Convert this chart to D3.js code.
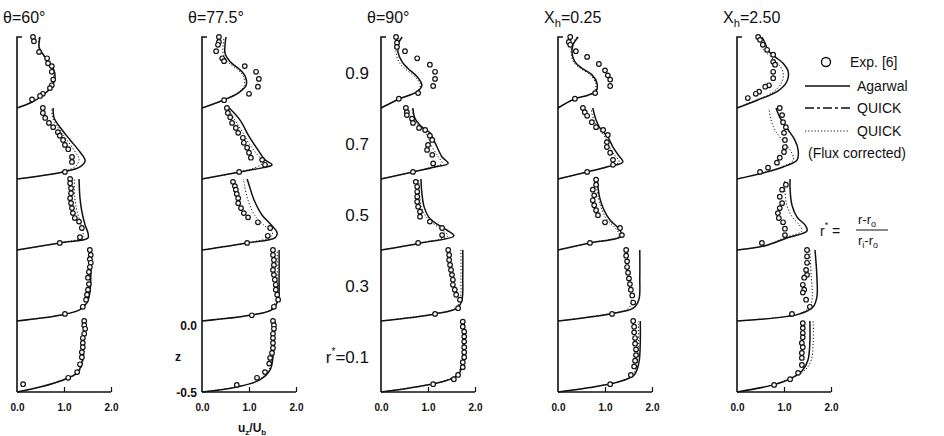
<!DOCTYPE html>
<html><head><meta charset="utf-8">
<script src="https://cdn.jsdelivr.net/npm/d3@7/dist/d3.min.js"></script>
<style>
body{margin:0;background:#fff}
text{font-family:"Liberation Sans",Arial,sans-serif;fill:#111}
</style>
</head><body>
<svg id="chart" width="944" height="436"></svg>
<script>
// r* stations, bottom block first
var stations = [0.1, 0.3, 0.5, 0.7, 0.9];
var xTicks = [0, 1, 2];
var zTicks = [-0.5, 0.0];

// each station: list of [u/Ub, z]
var agarwal60 = [
	[[0,-.5],[.49,-.465],[.98,-.415],[1.28,-.365],[1.38,-.295],[1.40,-.205],[1.43,0]],
	[[0,-.5],[.91,-.46],[1.34,-.42],[1.49,-.37],[1.55,-.30],[1.57,-.19],[1.57,0]],
	[[0,-.5],[.91,-.45],[1.51,-.415],[1.51,-.38],[1.45,-.325],[1.38,-.23],[1.34,-.135],[1.32,0]],
	[[0,-.5],[.98,-.45],[1.34,-.415],[1.45,-.37],[1.34,-.31],[1.13,-.225],[.96,-.155],[.79,-.07],[.77,0]],
	[[0,-.5],[.28,-.465],[.55,-.41],[.74,-.35],[.81,-.28],[.77,-.22],[.64,-.16],[.53,-.11],[.47,-.07],[.49,0]]
];
var flux60 = [
	[[0,-.5],[.5,-.465],[1.0,-.415],[1.30,-.365],[1.40,-.295],[1.43,-.205],[1.45,0]],
	[[0,-.5],[.9,-.46],[1.32,-.42],[1.46,-.37],[1.52,-.30],[1.54,-.19],[1.54,0]],
	[[0,-.5],[.9,-.45],[1.40,-.41],[1.40,-.37],[1.36,-.32],[1.28,-.23],[1.23,-.135],[1.22,0]],
	[[0,-.5],[.95,-.45],[1.25,-.41],[1.32,-.36],[1.22,-.30],[1.05,-.22],[.9,-.15],[.76,-.07],[.74,0]],
	[[0,-.5],[.28,-.465],[.55,-.41],[.72,-.35],[.78,-.28],[.74,-.22],[.62,-.16],[.52,-.11],[.46,-.07],[.47,0]]
];
var exp60 = [
	[[1.43,0],[1.43,-.03],[1.45,-.055],[1.43,-.09],[1.40,-.12],[1.40,-.155],[1.40,-.185],[1.38,-.22],[1.38,-.255],[1.34,-.305],[1.28,-.36],[1.09,-.40],[.13,-.445]],
	[[1.55,0],[1.57,-.035],[1.55,-.065],[1.57,-.09],[1.55,-.12],[1.53,-.155],[1.51,-.195],[1.53,-.24],[1.51,-.28],[1.49,-.315],[1.47,-.35],[1.40,-.40],[1.02,-.45]],
	[[1.13,0],[1.13,-.03],[1.15,-.065],[1.15,-.10],[1.13,-.135],[1.15,-.17],[1.17,-.205],[1.19,-.24],[1.23,-.275],[1.32,-.30],[1.38,-.345],[1.34,-.41],[.91,-.45]],
	[[.55,0],[.55,-.035],[.60,-.07],[.68,-.105],[.77,-.135],[.87,-.17],[.91,-.195],[.98,-.225],[1.02,-.26],[1.09,-.29],[1.17,-.345],[1.17,-.38],[1.02,-.45]],
	[[.34,0],[.36,-.03],[.47,-.105],[.64,-.15],[.66,-.185],[.74,-.205],[.74,-.245],[.77,-.30],[.74,-.34],[.70,-.36],[.55,-.40],[.49,-.415],[.32,-.44]]
];

var agarwal775 = [
	[[0,-.5],[.74,-.465],[1.23,-.415],[1.45,-.345],[1.51,-.255],[1.53,-.15],[1.55,0]],
	[[0,-.5],[1.02,-.46],[1.49,-.42],[1.62,-.35],[1.64,-.19],[1.64,0]],
	[[0,-.5],[.96,-.45],[1.55,-.415],[1.60,-.38],[1.45,-.315],[1.28,-.255],[1.11,-.15],[1.0,-.04],[.96,0]],
	[[0,-.5],[.81,-.45],[1.30,-.42],[1.49,-.40],[1.34,-.365],[1.20,-.30],[1.0,-.20],[.81,-.085],[.58,0]],
	[[0,-.5],[.45,-.445],[.77,-.395],[.94,-.34],[.91,-.27],[.77,-.22],[.60,-.175],[.49,-.115],[.49,-.055],[.51,0]]
];
var flux775 = [
	[[0,-.5],[.72,-.465],[1.20,-.415],[1.42,-.345],[1.49,-.255],[1.51,-.15],[1.52,0]],
	[[0,-.5],[1.0,-.46],[1.45,-.42],[1.58,-.35],[1.60,-.19],[1.60,0]],
	[[0,-.5],[.95,-.45],[1.45,-.41],[1.50,-.38],[1.30,-.32],[1.12,-.255],[.98,-.15],[.90,-.04],[.88,0]],
	[[0,-.5],[.8,-.45],[1.20,-.41],[1.30,-.38],[1.18,-.33],[1.02,-.26],[.88,-.18],[.70,-.085],[.55,0]],
	[[0,-.5],[.45,-.445],[.75,-.395],[.90,-.34],[.87,-.27],[.72,-.22],[.55,-.175],[.45,-.115],[.45,-.055],[.47,0]]
];
var exp775 = [
	[[1.51,0],[1.53,-.03],[1.53,-.055],[1.51,-.09],[1.51,-.12],[1.51,-.155],[1.51,-.19],[1.49,-.225],[1.45,-.26],[1.43,-.30],[1.34,-.36],[1.17,-.40],[.74,-.45]],
	[[1.51,0],[1.51,-.035],[1.53,-.07],[1.53,-.105],[1.51,-.14],[1.53,-.175],[1.55,-.21],[1.57,-.245],[1.57,-.28],[1.60,-.315],[1.62,-.35],[1.53,-.40],[1.06,-.46]],
	[[.66,-.02],[.70,-.05],[.72,-.075],[.74,-.105],[.77,-.135],[.77,-.17],[.83,-.205],[.89,-.24],[.98,-.27],[1.19,-.305],[1.45,-.345],[1.40,-.40],[.96,-.45]],
	[[.53,0],[.55,-.035],[.60,-.065],[.64,-.105],[.72,-.14],[.77,-.175],[.87,-.21],[.89,-.245],[.96,-.28],[1.0,-.315],[1.04,-.35],[1.28,-.365],[1.34,-.40],[.79,-.45]],
	[[.36,0],[.36,-.035],[.34,-.055],[.30,-.10],[.43,-.15],[.47,-.17],[.91,-.205],[1.15,-.245],[1.21,-.295],[1.19,-.35],[1.0,-.40],[.47,-.445]]
];

var agarwal90 = [
	[[0,-.5],[.64,-.47],[1.28,-.43],[1.64,-.38],[1.74,-.295],[1.77,-.155],[1.77,0]],
	[[0,-.5],[1.15,-.45],[1.62,-.41],[1.72,-.355],[1.74,-.19],[1.74,0]],
	[[0,-.5],[.85,-.45],[1.55,-.40],[1.40,-.36],[1.20,-.32],[1.02,-.27],[.92,-.20],[.87,-.10],[.85,0]],
	[[0,-.5],[.68,-.45],[1.15,-.415],[1.43,-.39],[1.30,-.345],[1.15,-.245],[1.04,-.175],[.89,-.14],[.72,-.07],[.68,0]],
	[[0,-.5],[.40,-.435],[.77,-.385],[.87,-.34],[.77,-.28],[.57,-.22],[.45,-.175],[.36,-.105],[.38,-.04],[.45,0]]
];
var flux90 = [
	[[0,-.5],[.62,-.47],[1.25,-.43],[1.60,-.38],[1.72,-.295],[1.75,-.155],[1.75,0]],
	[[0,-.5],[1.12,-.45],[1.58,-.41],[1.68,-.355],[1.70,-.19],[1.70,0]],
	[[0,-.5],[.85,-.45],[1.42,-.40],[1.30,-.36],[1.10,-.31],[.95,-.26],[.86,-.20],[.82,-.10],[.80,0]],
	[[0,-.5],[.68,-.45],[1.10,-.415],[1.30,-.39],[1.22,-.345],[1.08,-.27],[.98,-.19],[.84,-.14],[.70,-.07],[.66,0]],
	[[0,-.5],[.40,-.435],[.75,-.385],[.84,-.34],[.72,-.28],[.50,-.22],[.38,-.175],[.32,-.105],[.33,-.04],[.38,0]]
];
var exp90 = [
	[[1.74,-.005],[1.74,-.04],[1.77,-.075],[1.77,-.11],[1.77,-.145],[1.77,-.185],[1.77,-.22],[1.77,-.255],[1.74,-.29],[1.74,-.325],[1.64,-.38],[1.55,-.41],[1.11,-.445]],
	[[1.43,0],[1.45,-.035],[1.45,-.07],[1.47,-.105],[1.49,-.14],[1.51,-.175],[1.53,-.21],[1.53,-.245],[1.57,-.28],[1.60,-.315],[1.68,-.35],[1.64,-.41],[1.15,-.45]],
	[[.74,-.02],[.77,-.055],[.77,-.09],[.77,-.125],[.77,-.16],[.79,-.195],[.83,-.23],[.83,-.265],[1.04,-.30],[1.30,-.345],[1.30,-.395],[.79,-.45]],
	[[.53,0],[.55,-.03],[.55,-.05],[.66,-.075],[.68,-.105],[.81,-.14],[.94,-.155],[1.04,-.195],[1.09,-.225],[1.0,-.26],[.98,-.295],[1.09,-.33],[1.11,-.39],[.68,-.45]],
	[[.32,0],[.34,-.04],[.34,-.07],[.51,-.10],[.77,-.15],[1.04,-.195],[1.15,-.245],[1.15,-.295],[1.11,-.345],[.79,-.395],[.38,-.435]]
];

var agarwal025 = [
	[[0,-.5],[.64,-.47],[1.28,-.43],[1.62,-.38],[1.72,-.295],[1.75,-.155],[1.75,0]],
	[[0,-.5],[1.1,-.45],[1.6,-.41],[1.72,-.35],[1.74,-.19],[1.74,0]],
	[[0,-.5],[.68,-.45],[1.36,-.40],[1.28,-.345],[1.11,-.29],[.98,-.22],[.89,-.135],[.83,0]],
	[[0,-.5],[.62,-.45],[1.04,-.415],[1.38,-.38],[1.28,-.33],[1.17,-.275],[1.06,-.205],[.89,-.14],[.81,-.085],[.74,0]],
	[[0,-.5],[.36,-.435],[.64,-.41],[.81,-.38],[.83,-.325],[.72,-.265],[.51,-.22],[.36,-.175],[.30,-.115],[.32,-.055],[.43,0]]
];
var flux025 = [
	[[0,-.5],[.62,-.47],[1.25,-.43],[1.58,-.38],[1.68,-.295],[1.71,-.155],[1.71,0]],
	[[0,-.5],[1.05,-.45],[1.5,-.41],[1.56,-.35],[1.50,-.19],[1.48,0]],
	[[0,-.5],[.68,-.45],[1.30,-.40],[1.22,-.345],[1.05,-.29],[.94,-.22],[.86,-.135],[.80,0]],
	[[0,-.5],[.62,-.45],[1.0,-.415],[1.30,-.38],[1.20,-.33],[1.10,-.275],[1.0,-.205],[.85,-.14],[.76,-.085],[.70,0]],
	[[0,-.5],[.36,-.435],[.62,-.41],[.78,-.38],[.80,-.325],[.68,-.265],[.47,-.22],[.33,-.175],[.28,-.115],[.30,-.055],[.40,0]]
];
var exp025 = [
	[[1.60,0],[1.62,-.04],[1.62,-.08],[1.64,-.12],[1.64,-.16],[1.66,-.20],[1.66,-.24],[1.64,-.28],[1.62,-.32],[1.55,-.38],[1.11,-.445]],
	[[1.45,0],[1.45,-.04],[1.47,-.08],[1.47,-.12],[1.49,-.16],[1.51,-.20],[1.53,-.24],[1.55,-.28],[1.58,-.32],[1.60,-.37],[1.15,-.45]],
	[[.81,-.005],[.81,-.04],[.74,-.075],[.77,-.115],[.74,-.15],[.77,-.185],[.81,-.22],[.85,-.255],[1.0,-.305],[1.32,-.345],[1.36,-.395],[.68,-.45]],
	[[.53,0],[.57,-.03],[.62,-.055],[.72,-.10],[.81,-.135],[.96,-.155],[1.06,-.19],[1.04,-.24],[1.04,-.275],[1.11,-.315],[1.17,-.365],[1.17,-.40],[.62,-.45]],
	[[.26,0],[.23,-.035],[.26,-.055],[.38,-.10],[.62,-.14],[.87,-.19],[1.0,-.235],[1.06,-.27],[1.11,-.30],[1.11,-.345],[.79,-.395],[.36,-.435]]
];

var agarwal250 = [
	[[0,-.5],[.77,-.45],[1.17,-.40],[1.40,-.345],[1.51,-.275],[1.55,-.155],[1.55,0]],
	[[0,-.5],[1.34,-.45],[1.62,-.40],[1.70,-.33],[1.70,-.19],[1.66,0]],
	[[0,-.5],[.60,-.47],[1.06,-.415],[1.49,-.365],[1.45,-.325],[1.28,-.27],[1.17,-.185],[1.13,-.075],[1.13,0]],
	[[0,-.5],[.64,-.45],[.98,-.415],[1.28,-.365],[1.30,-.295],[1.23,-.225],[1.09,-.155],[.98,-.105],[.89,-.05],[.83,0]],
	[[0,-.5],[.43,-.445],[.85,-.385],[1.06,-.315],[1.09,-.245],[.98,-.185],[.81,-.14],[.66,-.095],[.60,-.045],[.53,0]]
];
var flux250 = [
	[[0,-.5],[.75,-.45],[1.18,-.40],[1.45,-.345],[1.58,-.275],[1.62,-.155],[1.62,0]],
	[[0,-.5],[1.3,-.45],[1.55,-.40],[1.60,-.33],[1.58,-.19],[1.55,0]],
	[[0,-.5],[.58,-.47],[1.0,-.415],[1.38,-.365],[1.33,-.325],[1.18,-.27],[1.06,-.185],[1.02,-.075],[1.02,0]],
	[[0,-.5],[.62,-.45],[.95,-.415],[1.20,-.365],[1.12,-.29],[.95,-.22],[.80,-.15],[.72,-.08],[.68,0]],
	[[0,-.5],[.40,-.445],[.78,-.385],[.96,-.315],[.98,-.25],[.88,-.19],[.72,-.14],[.58,-.095],[.50,-.045],[.45,0]]
];
var exp250 = [
	[[1.40,-.015],[1.40,-.05],[1.40,-.085],[1.40,-.115],[1.38,-.155],[1.40,-.185],[1.38,-.225],[1.38,-.26],[1.38,-.31],[1.30,-.365],[1.13,-.41],[.79,-.45]],
	[[1.49,0],[1.49,-.045],[1.49,-.09],[1.47,-.14],[1.49,-.175],[1.43,-.195],[1.40,-.245],[1.43,-.28],[1.40,-.30],[1.47,-.35],[1.55,-.40],[1.17,-.45]],
	[[1.04,-.04],[.96,-.075],[.91,-.125],[.96,-.17],[.91,-.205],[.87,-.24],[.89,-.275],[.98,-.305],[1.02,-.35],[1.02,-.395],[.53,-.45]],
	[[.91,0],[.96,-.05],[.98,-.10],[1.04,-.135],[1.0,-.175],[1.02,-.225],[1.02,-.275],[1.0,-.31],[.91,-.35],[.85,-.385],[.66,-.42],[.49,-.45]],
	[[.45,0],[.49,-.02],[.55,-.055],[.64,-.09],[.77,-.125],[.77,-.175],[.81,-.195],[.77,-.245],[.77,-.29],[.68,-.34],[.60,-.35],[.47,-.385],[.40,-.40],[.23,-.43]]
];

var panels = [
	{title: "θ=60°", x0: 17, agarwal: agarwal60, flux: flux60, exp: exp60},
	{title: "θ=77.5°", x0: 202, agarwal: agarwal775, flux: flux775, exp: exp775},
	{title: "θ=90°", x0: 381, agarwal: agarwal90, flux: flux90, exp: exp90},
	{title: "X|h|=0.25", x0: 558, agarwal: agarwal025, flux: flux025, exp: exp025},
	{title: "X|h|=2.50", x0: 737, agarwal: agarwal250, flux: flux250, exp: exp250}
];

var svg = d3.select("#chart");
var bottom = 392, blockH = 71, axisW = 94;

function subText(sel, str) {
	// "X|h|=0.25" -> X with subscript h
	var parts = str.split("|");
	if (parts.length == 1) { sel.text(str); return; }
	sel.append("tspan").text(parts[0]);
	sel.append("tspan").attr("dy", 4).attr("font-size", "0.7em").text(parts[1]);
	sel.append("tspan").attr("dy", -4).text(parts[2]);
}

panels.forEach(function(p, pi) {
	var g = svg.append("g");
	var x = d3.scaleLinear().domain([0, 2]).range([p.x0, p.x0 + axisW]);

	// title
	var t = g.append("text").attr("x", p.x0 - 14).attr("y", 23).attr("font-size", 16);
	subText(t, p.title);

	// left axis with top tick
	g.append("path")
		.attr("d", "M" + (p.x0 + 5) + "," + (bottom - 5 * blockH) + "H" + p.x0 + "V" + bottom)
		.attr("fill", "none").attr("stroke", "#111").attr("stroke-width", 1.6);

	// bottom axis
	var xAxis = d3.axisBottom(x).tickValues(xTicks).tickSize(-5).tickFormat(d3.format(".1f"));
	var ax = g.append("g").attr("transform", "translate(0," + bottom + ")").call(xAxis);
	ax.select(".domain").attr("stroke", "#111").attr("stroke-width", 1.6).attr("d", "M" + p.x0 + ",0H" + (p.x0 + axisW));
	ax.selectAll(".tick line").attr("stroke", "#111").attr("stroke-width", 1.2);
	ax.selectAll(".tick").filter(function(d) { return d == 0; }).select("line").remove();
	ax.selectAll(".tick text").attr("y", 12).attr("font-size", 10).attr("font-weight", "bold")
		.attr("font-family", "Liberation Sans, Arial, sans-serif").attr("fill", "#111");

	stations.forEach(function(s, si) {
		var y = d3.scaleLinear().domain([-0.5, 0]).range([bottom - si * blockH, bottom - (si + 1) * blockH]);
		var line = d3.line().x(function(d) { return x(d[0]); }).y(function(d) { return y(d[1]); })
			.curve(d3.curveCatmullRom.alpha(0.5));

		g.append("path").datum(p.flux[si]).attr("d", line)
			.attr("fill", "none").attr("stroke", "#111").attr("stroke-width", 1).attr("stroke-dasharray", "1.2,2");
		g.append("path").datum(p.agarwal[si]).attr("d", line)
			.attr("fill", "none").attr("stroke", "#111").attr("stroke-width", 1.5);
		g.selectAll(null).data(p.exp[si]).enter().append("circle")
			.attr("cx", function(d) { return x(d[0]); })
			.attr("cy", function(d) { return y(d[1]); })
			.attr("r", 2.3).attr("fill", "#fff").attr("stroke", "#111").attr("stroke-width", 1.2);
	});
});

// r* labels between panels 2 and 3
var yLab = d3.scaleLinear().domain([0, 4]).range([bottom - blockH / 2, bottom - 4.5 * blockH]);
stations.forEach(function(s, si) {
	var tx = svg.append("text").attr("x", 369).attr("y", yLab(si) + 6).attr("text-anchor", "end").attr("font-size", 17);
	if (si == 0) {
		tx.append("tspan").text("r");
		tx.append("tspan").attr("dy", -8).attr("font-size", 10).text("*");
		tx.append("tspan").attr("dy", 8).text("=" + s.toFixed(1));
	} else tx.text(s.toFixed(1));
});

// z labels on panel 2
var zScale = d3.scaleLinear().domain([-0.5, 0]).range([bottom, bottom - 67]);
zTicks.forEach(function(z) {
	svg.append("text").attr("x", 197).attr("y", zScale(z) + 5).attr("text-anchor", "end")
		.attr("font-size", 12).attr("font-weight", "bold").text(z.toFixed(1));
});
svg.append("text").attr("x", 175).attr("y", 361).attr("font-size", 12).attr("font-weight", "bold").text("z");

// x-axis title
var xt = svg.append("text").attr("x", 238).attr("y", 432).attr("font-size", 12).attr("font-weight", "bold");
xt.append("tspan").text("u");
xt.append("tspan").attr("dy", 3).attr("font-size", 8).text("z");
xt.append("tspan").attr("dy", -3).text("/U");
xt.append("tspan").attr("dy", 3).attr("font-size", 8).text("b");

// legend
var lg = svg.append("g");
lg.append("circle").attr("cx", 826).attr("cy", 62).attr("r", 4.5).attr("fill", "#fff").attr("stroke", "#111").attr("stroke-width", 1.4);
lg.append("text").attr("x", 850).attr("y", 67).attr("font-size", 14).text("Exp. [6]");
var legendRows = [
	{label: "Agarwal", y: 86, dash: null},
	{label: "QUICK", y: 108, dash: "9,3,3,3"},
	{label: "QUICK", y: 131, dash: "1.2,2"}
];
legendRows.forEach(function(r) {
	lg.append("line").attr("x1", 805).attr("x2", 850).attr("y1", r.y).attr("y2", r.y)
		.attr("stroke", "#111").attr("stroke-width", r.dash == "1.2,2" ? 1 : 1.4).attr("stroke-dasharray", r.dash);
	lg.append("text").attr("x", 857).attr("y", r.y + 5).attr("font-size", 14).text(r.label);
});
lg.append("text").attr("x", 808).attr("y", 158).attr("font-size", 14).text("(Flux corrected)");

// r* formula
var fm = svg.append("g");
var r1 = fm.append("text").attr("x", 820).attr("y", 236).attr("font-size", 14);
r1.append("tspan").text("r");
r1.append("tspan").attr("dy", -8).attr("font-size", 9).text("*");
r1.append("tspan").attr("dy", 8).text(" =");
var num = fm.append("text").attr("x", 858).attr("y", 224).attr("font-size", 13);
num.append("tspan").text("r-r");
num.append("tspan").attr("dy", 3).attr("font-size", 9).text("o");
fm.append("line").attr("x1", 856).attr("x2", 888).attr("y1", 230).attr("y2", 230).attr("stroke", "#111").attr("stroke-width", 1);
var den = fm.append("text").attr("x", 858).attr("y", 245).attr("font-size", 13);
den.append("tspan").text("r");
den.append("tspan").attr("dy", 3).attr("font-size", 9).text("i");
den.append("tspan").attr("dy", -3).text("-r");
den.append("tspan").attr("dy", 3).attr("font-size", 9).text("o");
</script>
</body></html>
